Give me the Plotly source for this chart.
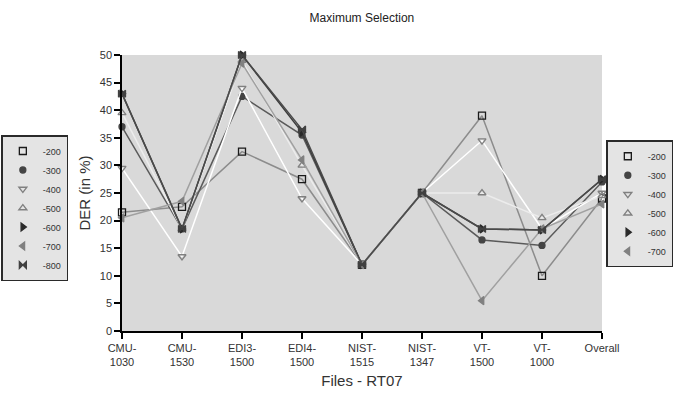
import plotly.graph_objects as go

categories = ["CMU-1030", "CMU-1530", "EDI3-1500", "EDI4-1500", "NIST-1515",
              "NIST-1347", "VT-1500", "VT-1000", "Overall"]
tick_labels = ["CMU-<br>1030", "CMU-<br>1530", "EDI3-<br>1500", "EDI4-<br>1500",
               "NIST-<br>1515", "NIST-<br>1347", "VT-<br>1500", "VT-<br>1000", "Overall"]

s200 = [21.5, 22.5, 32.5, 27.5, 12, 25, 39, 10, 24]
s300 = [37, 18.5, 42.5, 35.5, 12, 25, 16.5, 15.5, 27]
s400 = [29.5, 13.5, 44, 24, 12, 25, 34.5, 18.5, 25]
s500 = [39.5, 18.5, 49, 30, 12, 25, 25, 20.5, 24.5]
s600 = [43, 18.5, 50, 36, 12, 25, 18.5, 18.3, 27.5]
s700 = [20.5, 23.5, 48.5, 31, 12, 25, 5.5, 18.5, 23]
s800 = [43, 18.5, 50, 36.5, 12, 25, 18.5, 18.3, 27.5]

series = [
    ("-200", s200, "#8c8c8c", "square-open", "#1a1a1a", 7),
    ("-300", s300, "#5a5a5a", "circle", "#444444", 6),
    ("-400", s400, "#ffffff", "triangle-down-open", "#808080", 7),
    ("-500", s500, "#ececec", "triangle-up-open", "#808080", 7),
    ("-600", s600, "#3c3c3c", "triangle-right", "#2a2a2a", 7),
    ("-700", s700, "#a0a0a0", "triangle-left", "#808080", 7),
    ("-800", s800, "#4a4a4a", "bowtie", "#404040", 7),
]

fig = go.Figure()
for name, vals, lc, sym, mc, ms in series:
    fig.add_trace(go.Scatter(
        x=categories, y=vals, mode="lines+markers", name=name, showlegend=False,
        line=dict(color=lc, width=1.5),
        marker=dict(symbol=sym, color=mc, size=ms, line=dict(color=mc, width=1.3)),
        cliponaxis=False))

# legend entries
for name, vals, lc, sym, mc, ms in series:
    fig.add_trace(go.Scatter(
        x=[None], y=[None], mode="markers", name=name, legend="legend",
        marker=dict(symbol=sym, color=mc, size=ms, line=dict(color=mc, width=1.3))))
for name, vals, lc, sym, mc, ms in series[:6]:
    fig.add_trace(go.Scatter(
        x=[None], y=[None], mode="markers", name=name, legend="legend2",
        marker=dict(symbol=sym, color=mc, size=ms, line=dict(color=mc, width=1.3))))

leg_common = dict(font=dict(size=9, color="#333333", family="Liberation Sans, Arial, sans-serif"),
                  bgcolor="#e4e4e4", bordercolor="#2a2a2a", borderwidth=1.5,
                  itemwidth=30, tracegroupgap=0, xref="container", yref="container")

fig.update_layout(
    width=674, height=403,
    margin=dict(l=122, r=72, t=55, b=72, autoexpand=False),
    paper_bgcolor="white", plot_bgcolor="#d9d9d9",
    font=dict(family="Liberation Sans, Arial, sans-serif", color="#333333", size=11),
    title=dict(text="Maximum Selection", x=0.537, xanchor="center", y=0.955, yanchor="middle",
               font=dict(size=12, color="#222222")),
    legend=dict(x=0.002, xanchor="left", y=0.665, yanchor="top", **leg_common),
    legend2=dict(x=0.999, xanchor="right", y=0.652, yanchor="top", **leg_common),
    xaxis=dict(
        tickmode="array", tickvals=categories, ticktext=tick_labels,
        range=[0, 8], showgrid=False, zeroline=False,
        showline=True, linecolor="black", linewidth=1.5,
        ticks="outside", ticklen=6, tickcolor="black", tickwidth=1.5,
        tickfont=dict(size=11, color="#333333"),
        title=dict(text="Files - RT07", font=dict(size=15, color="#333333"), standoff=8),
    ),
    yaxis=dict(
        range=[0, 50], dtick=5, showgrid=False, zeroline=False,
        showline=True, linecolor="black", linewidth=1.5,
        ticks="outside", ticklen=6, tickcolor="black", tickwidth=1.5,
        tickfont=dict(size=11, color="#333333"),
        title=dict(text="DER (in %)", font=dict(size=15, color="#333333"), standoff=6),
    ),
)

fig.write_html("out.html")
